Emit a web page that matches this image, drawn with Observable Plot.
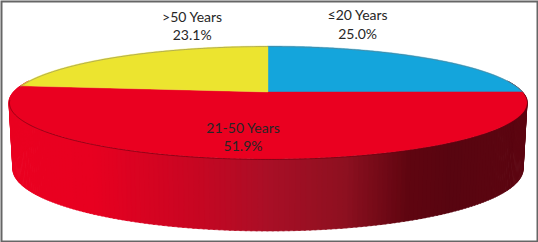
<!DOCTYPE html>
<html>
<head>
<meta charset="utf-8">
<style>html,body{margin:0;padding:0;background:#fff}svg{display:block}</style>
<script src="https://cdn.jsdelivr.net/npm/d3@7"></script>
<script src="https://cdn.jsdelivr.net/npm/@observablehq/plot@0.6"></script>
</head>
<body>
<div id="chart"></div>
<script>
const categories = ["≤20 Years", "21-50 Years", ">50 Years"];
const shares = [25.0, 51.9, 23.1];
const sliceColors = ["#14a5dc", "#ea0020", "#ece42f"];
const sideStops = [-1, -0.7, -0.3, 0, 0.3, 0.55, 0.72, 1];
const sideColors = ["#ea0020", "#e80020", "#c80622", "#a90f26", "#8d1020", "#5f0510", "#580510", "#5c0510"];
const labelAnchors = [[0.35, -1.27], [-0.10, 0.80], [-0.30, -1.24]];

// tilted disc: (u, v) on the unit circle seen in perspective
const k = 0.186;
const rim = deg => {
  const a = deg * Math.PI / 180, u = Math.sin(a), v = -Math.cos(a), w = 1 - k * v;
  return {deg, x: u / w, y: v / w};
};
const lower = p => ({x: p.x * 0.985, y: 1.198 + p.y * 1.10});
const degs = (a, b) => d3.range(a, b, 0.5).concat([b]);

const cum = d3.cumsum(shares);
const slices = categories.map((name, i) => {
  const a0 = (i ? cum[i - 1] : 0) * 3.6, a1 = cum[i] * 3.6;
  return {name, share: shares[i], color: sliceColors[i], a0, a1,
    rimPts: degs(a0, a1).map(rim)};
});

const sideShade = d3.scaleLinear().domain(sideStops).range(sideColors).interpolate(d3.interpolateRgb).clamp(true);
const strips = d3.range(78, 282, 1).flatMap(d => {
  const pts = [rim(d), rim(d + 1.3)];
  const fill = sideShade((pts[0].x + pts[1].x) / 2);
  return pts.map(p => ({id: d, fill, x1: p.x, y1: p.y, x2: lower(p).x, y2: lower(p).y}));
});

const labels = categories.map((name, i) => ({
  text: `${name}\n${shares[i].toFixed(1)}%`, x: labelAnchors[i][0], y: labelAnchors[i][1]
}));
const front = degs(92, 262).map(rim);
const back = degs(276, 360).concat(degs(0, 90)).map(rim);

const marks = [
  Plot.area(strips, {x1: "x1", y1: "y1", x2: "x2", y2: "y2", z: "id", fill: "fill", stroke: "fill", strokeWidth: 0.6}),
  ...slices.map(s => Plot.area(s.rimPts, {x1: () => 0, y1: () => 0, x2: "x", y2: "y", fill: s.color, stroke: s.color, strokeWidth: 0.4})),
  Plot.line(front, {x: "x", y: "y", stroke: "#6a0010", strokeWidth: 0.8, strokeOpacity: 0.8}),
  Plot.line(back, {x: "x", y: "y", stroke: "#777", strokeWidth: 0.7, strokeOpacity: 0.7}),
  Plot.text(labels, {x: "x", y: "y", text: "text", fontSize: 14, fontFamily: "Lato", fill: "#262626", lineHeight: 1.33}),
  Plot.frame({stroke: "#666", strokeWidth: 2, inset: 1})
];

const chart = Plot.plot({
  width: 538, height: 242,
  marginTop: 0, marginRight: 0, marginBottom: 0, marginLeft: 0,
  x: {domain: [-1, 1], range: [13.5, 522.5], axis: null},
  y: {domain: [-1, 1], range: [37.5, 146.5], axis: null},
  style: {background: "#fff"},
  marks
});
document.getElementById("chart").append(chart);
</script>
</body>
</html>
